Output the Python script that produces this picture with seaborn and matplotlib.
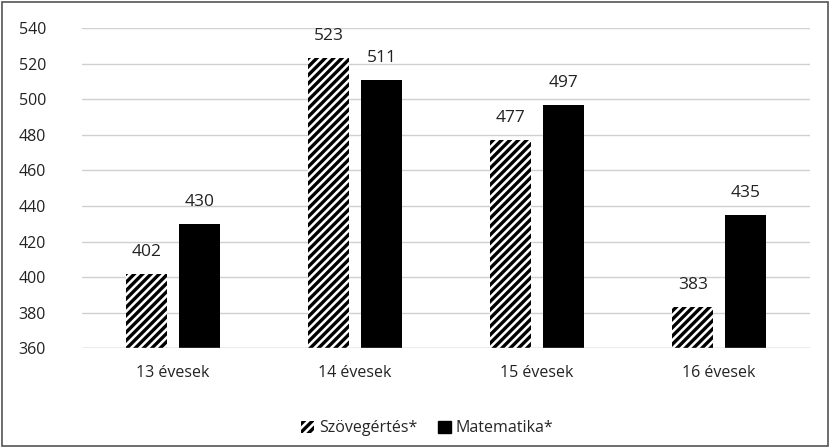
import pandas as pd
import matplotlib
matplotlib.use("Agg")
import matplotlib.pyplot as plt
import seaborn as sns
from matplotlib.patches import Patch, Rectangle

categories = ["13 évesek", "14 évesek", "15 évesek", "16 évesek"]
series = ["Szövegértés*", "Matematika*"]
szoveg = [402, 523, 477, 383]
matek = [430, 511, 497, 435]
yticks = list(range(360, 541, 20))

df = pd.DataFrame({
    "kor": categories * 2,
    "terulet": [series[0]] * 4 + [series[1]] * 4,
    "pont": szoveg + matek,
})

sns.set_style("white")
plt.rcParams["font.family"] = ["Open Sans", "DejaVu Sans"]
plt.rcParams["hatch.linewidth"] = 2.4

fig = plt.figure(figsize=(8.3, 4.47), dpi=100)
ax = fig.add_axes([0.099, 0.221, 0.877, 0.716])

sns.barplot(data=df, x="kor", y="pont", hue="terulet", order=categories,
            hue_order=series, palette=["white", "black"], width=0.58, gap=0.22,
            ax=ax, legend=False)

# first hue series -> hatched bars
for bar in ax.patches[:4]:
    bar.set_facecolor("white")
    bar.set_hatch("////")
    bar.set_edgecolor("black")
    bar.set_linewidth(0)
for bar in ax.patches[4:8]:
    bar.set_linewidth(0)

for cont in ax.containers:
    ax.bar_label(cont, padding=10, fontsize=12.5, color="#222222")

ax.set_ylim(360, 540)
ax.set_yticks(yticks)
ax.set_xlabel("")
ax.set_ylabel("")
ax.tick_params(axis="both", length=0, labelsize=11.5, colors="#222222")
ax.tick_params(axis="y", pad=26)
ax.tick_params(axis="x", pad=12)
ax.grid(axis="y", color="#d0d0d0", linewidth=1)
ax.set_axisbelow(True)
for s in ax.spines.values():
    s.set_visible(False)
ax.axhline(360, color="#c8c8c8", linewidth=1)

handles = [Patch(facecolor="white", edgecolor="black", hatch="////", linewidth=0),
           Patch(facecolor="black", edgecolor="black")]
fig.legend(handles, series, loc="center", bbox_to_anchor=(0.515, 0.042), ncol=2,
           frameon=False, fontsize=11.5, handlelength=0.8, handleheight=0.8,
           handletextpad=0.3, columnspacing=1.3)

fig.patches.append(Rectangle((0.002, 0.002), 0.996, 0.994, transform=fig.transFigure,
                             fill=False, edgecolor="#555555", linewidth=1.2))

fig.savefig("out.png", dpi=100)
